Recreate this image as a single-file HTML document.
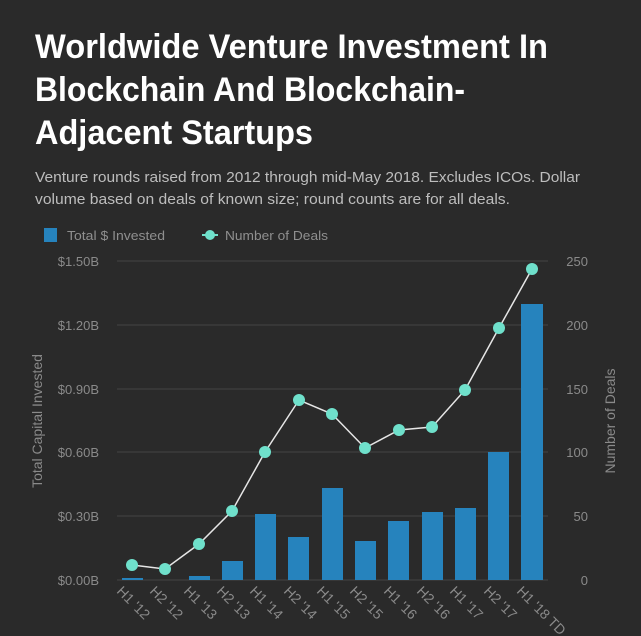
<!DOCTYPE html>
<html><head><meta charset="utf-8"><style>
html,body{margin:0;padding:0;background:#2a2a2a;}
svg{display:block;font-family:"Liberation Sans",sans-serif;}
</style></head><body>
<svg width="641" height="636" viewBox="0 0 641 636" xmlns="http://www.w3.org/2000/svg">
<rect width="641" height="636" fill="#2a2a2a"/>
<g fill="#ffffff" font-weight="bold" font-size="34">
<text x="35" y="58" textLength="513" lengthAdjust="spacingAndGlyphs">Worldwide Venture Investment In</text>
<text x="35" y="101" textLength="430" lengthAdjust="spacingAndGlyphs">Blockchain And Blockchain-</text>
<text x="35" y="144" textLength="278" lengthAdjust="spacingAndGlyphs">Adjacent Startups</text>
</g>
<g fill="#bdbdbd" font-size="15">
<text x="35" y="182" textLength="545" lengthAdjust="spacingAndGlyphs">Venture rounds raised from 2012 through mid-May 2018. Excludes ICOs. Dollar</text>
<text x="35" y="204" textLength="475" lengthAdjust="spacingAndGlyphs">volume based on deals of known size; round counts are for all deals.</text>
</g>
<rect x="44" y="228" width="13" height="14" fill="#2683bd"/>
<text x="67" y="240" fill="#8f8f8f" font-size="13" textLength="98" lengthAdjust="spacingAndGlyphs">Total $ Invested</text>
<line x1="202" y1="235" x2="218" y2="235" stroke="#6fe0cb" stroke-width="2"/>
<circle cx="210" cy="235" r="5" fill="#6fe0cb"/>
<text x="225" y="240" fill="#8f8f8f" font-size="13" textLength="103" lengthAdjust="spacingAndGlyphs">Number of Deals</text>
<g stroke="#444" stroke-width="1">
<line x1="117" y1="261" x2="548" y2="261"/><line x1="117" y1="325" x2="548" y2="325"/>
<line x1="117" y1="389" x2="548" y2="389"/><line x1="117" y1="452" x2="548" y2="452"/>
<line x1="117" y1="516" x2="548" y2="516"/><line x1="117" y1="580" x2="548" y2="580"/>
</g>
<g fill="#8a8a8a" font-size="13" text-anchor="end">
<text x="99" y="266">$1.50B</text><text x="99" y="330">$1.20B</text><text x="99" y="394">$0.90B</text>
<text x="99" y="457">$0.60B</text><text x="99" y="521">$0.30B</text><text x="99" y="585">$0.00B</text>
<text x="588" y="266">250</text><text x="588" y="330">200</text><text x="588" y="394">150</text>
<text x="588" y="457">100</text><text x="588" y="521">50</text><text x="588" y="585">0</text>
</g>
<text transform="translate(42,421) rotate(-90)" text-anchor="middle" fill="#8a8a8a" font-size="14">Total Capital Invested</text>
<text transform="translate(615,421) rotate(-90)" text-anchor="middle" fill="#8a8a8a" font-size="14">Number of Deals</text>
<g fill="#2683bd">
<rect x="122" y="578" width="21" height="2"/>
<rect x="189" y="576" width="21" height="4"/>
<rect x="222" y="561" width="21" height="19"/>
<rect x="255" y="514" width="21" height="66"/>
<rect x="288" y="537" width="21" height="43"/>
<rect x="322" y="488" width="21" height="92"/>
<rect x="355" y="541" width="21" height="39"/>
<rect x="388" y="521" width="21" height="59"/>
<rect x="422" y="512" width="21" height="68"/>
<rect x="455" y="508" width="21" height="72"/>
<rect x="488" y="452" width="21" height="128"/>
<rect x="521" y="304" width="22" height="276"/>
</g>
<polyline fill="none" stroke="#e6e6e6" stroke-width="1.5" points="132,565 165,569 199,544 232,511 265,452 299,400 332,414 365,448 399,430 432,427 465,390 499,328 532,269"/>
<g fill="#6fe0cb">
<circle cx="132" cy="565" r="6"/><circle cx="165" cy="569" r="6"/><circle cx="199" cy="544" r="6"/>
<circle cx="232" cy="511" r="6"/><circle cx="265" cy="452" r="6"/><circle cx="299" cy="400" r="6"/>
<circle cx="332" cy="414" r="6"/><circle cx="365" cy="448" r="6"/><circle cx="399" cy="430" r="6"/>
<circle cx="432" cy="427" r="6"/><circle cx="465" cy="390" r="6"/><circle cx="499" cy="328" r="6"/>
<circle cx="532" cy="269" r="6"/>
</g>
<g fill="#8a8a8a" font-size="14">
<text transform="translate(116,592) rotate(45)">H1 '12</text>
<text transform="translate(149,592) rotate(45)">H2 '12</text>
<text transform="translate(183,592) rotate(45)">H1 '13</text>
<text transform="translate(216,592) rotate(45)">H2 '13</text>
<text transform="translate(249,592) rotate(45)">H1 '14</text>
<text transform="translate(283,592) rotate(45)">H2 '14</text>
<text transform="translate(316,592) rotate(45)">H1 '15</text>
<text transform="translate(349,592) rotate(45)">H2 '15</text>
<text transform="translate(383,592) rotate(45)">H1 '16</text>
<text transform="translate(416,592) rotate(45)">H2 '16</text>
<text transform="translate(449,592) rotate(45)">H1 '17</text>
<text transform="translate(483,592) rotate(45)">H2 '17</text>
<text transform="translate(516,592) rotate(45)">H1 '18 TD</text>
</g>
</svg>
</body></html>
